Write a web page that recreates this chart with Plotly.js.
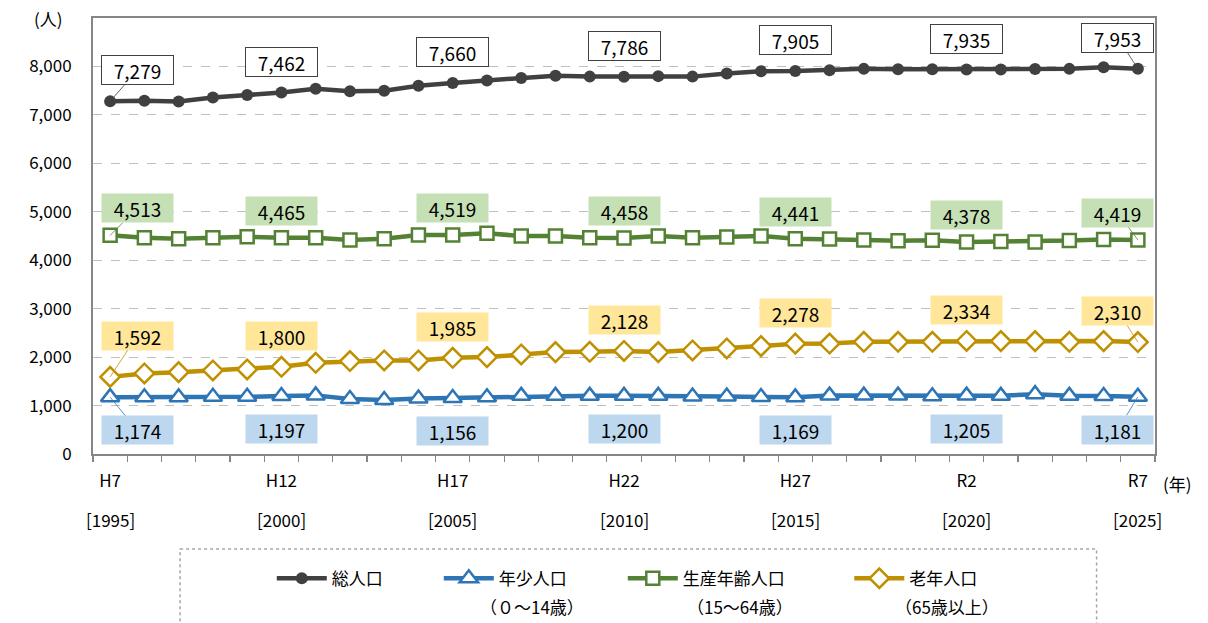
<!DOCTYPE html>
<html><head><meta charset="utf-8">
<script src="https://cdn.plot.ly/plotly-3.0.1.min.js"></script>
<style>body{margin:0;background:#fff}#chart{width:1208px;height:623px}</style>
</head><body><div id="chart"></div>
<script>
const years = [1995,1996,1997,1998,1999,2000,2001,2002,2003,2004,2005,2006,2007,2008,2009,2010,2011,2012,2013,2014,2015,2016,2017,2018,2019,2020,2021,2022,2023,2024,2025];
const total   = [7279,7290,7275,7360,7410,7462,7540,7490,7500,7600,7660,7710,7760,7810,7790,7786,7800,7790,7855,7900,7905,7920,7950,7940,7940,7935,7935,7945,7950,7985,7953];
const youth   = [1174,1170,1170,1180,1180,1197,1210,1135,1115,1145,1156,1170,1200,1200,1200,1200,1200,1185,1185,1175,1169,1205,1205,1205,1190,1205,1200,1235,1200,1195,1181];
const working = [4513,4466,4445,4466,4486,4465,4466,4418,4445,4520,4519,4555,4500,4500,4466,4458,4500,4466,4480,4500,4441,4440,4420,4400,4410,4378,4385,4375,4405,4430,4419];
const elderly = [1592,1663,1690,1725,1746,1800,1883,1918,1931,1931,1985,2000,2055,2103,2110,2128,2103,2137,2179,2227,2278,2280,2316,2316,2316,2334,2330,2330,2316,2330,2310];
const tickYears = [1995,2000,2005,2010,2015,2020,2025];
const eraLabels = ['H7','H12','H17','H22','H27','R2','R7'];
const yTicks = [0,1000,2000,3000,4000,5000,6000,7000,8000];
const seriesNames = ['総人口','年少人口','生産年齢人口','老年人口'];
const seriesSub = ['','（０～14歳）','（15～64歳）','（65歳以上）'];

const FONT = '"Noto Sans CJK JP", "Noto Sans", sans-serif';
const C_TOTAL = '#404040', C_YOUTH = '#2e75b6', C_WORK = '#548235', C_OLD = '#bf9000';
// legend padding so the entries sit apart like the reference
const legendPad = ['　　　', '　　　', '　　　\u2002', ''];
const subX = [0, 0.3625, 0.5574, 0.7532];   // left edge of the age-range line under each legend entry (paper)

const traces = [
  {x: years, y: total, name: seriesNames[0] + legendPad[0], mode: 'lines+markers',
   line: {color: C_TOTAL, width: 4.5}, marker: {symbol: 'circle', size: 12, color: C_TOTAL}},
  {x: years, y: youth, name: seriesNames[1] + legendPad[1], mode: 'lines+markers',
   line: {color: C_YOUTH, width: 4.5}, marker: {symbol: 'triangle-up', size: 16, color: '#fff', line: {color: C_YOUTH, width: 2.5}}},
  {x: years, y: working, name: seriesNames[2] + legendPad[2], mode: 'lines+markers',
   line: {color: C_WORK, width: 4.5}, marker: {symbol: 'square', size: 13, color: '#fff', line: {color: C_WORK, width: 2.5}}},
  {x: years, y: elderly, name: seriesNames[3] + legendPad[3], mode: 'lines+markers',
   line: {color: C_OLD, width: 4.5}, marker: {symbol: 'diamond', size: 15, color: '#fff', line: {color: C_OLD, width: 2.5}}}
];

const fmt = v => v.toLocaleString('en-US');
const annotations = [];
const labelStyles = [
  {data: total, dy: -31, bg: '#ffffff', border: '#404040', lead: C_TOTAL},
  {data: youth, dy: 33, bg: '#bdd7ee', border: 'rgba(0,0,0,0)', lead: C_YOUTH},
  {data: working, dy: -27, bg: '#c5e0b4', border: 'rgba(0,0,0,0)', lead: C_WORK},
  {data: elderly, dy: -31, bg: '#ffe699', border: 'rgba(0,0,0,0)', lead: C_OLD}
];
labelStyles.forEach((s, si) => {
  tickYears.forEach((yr, k) => {
    const i = years.indexOf(yr);
    const first = k === 0, last = k === tickYears.length - 1;
    let dy = s.dy;
    if (si === 3 && first) dy = -41;
    const a = {
      x: yr, y: s.data[i], xref: 'x', yref: 'y',
      text: fmt(s.data[i]),
      font: {family: FONT, size: 19, color: '#000'},
      bgcolor: s.bg, bordercolor: s.border, borderwidth: 1,
      width: 71, height: 28, borderpad: 0
    };
    if (first || last) {
      a.showarrow = true; a.arrowhead = 0; a.arrowwidth = 0.8; a.arrowcolor = s.lead;
      a.ax = first ? 27 : -20; a.ay = dy; a.standoff = 0;
    } else {
      a.showarrow = false; a.yshift = -dy;
    }
    annotations.push(a);
  });
});
// second row of x labels (western years)
tickYears.forEach(yr => {
  annotations.push({x: yr, xref: 'x', y: 0, yref: 'paper', yanchor: 'middle', yshift: -65,
    text: '[' + yr + ']', showarrow: false, font: {family: FONT, size: 17, color: '#000'}});
});
// age-range line of the legend entries
seriesSub.forEach((t, i) => {
  if (!t) return;
  annotations.push({x: subX[i], xref: 'paper', xanchor: 'left', y: -0.3509, yref: 'paper', yanchor: 'middle',
    text: t, showarrow: false, font: {family: FONT, size: 17, color: '#000'}});
});
annotations.push({x: 1, xref: 'paper', xanchor: 'left', xshift: 6, y: 0, yref: 'paper', yanchor: 'middle', yshift: -29,
  text: '(年)', showarrow: false, font: {family: FONT, size: 17, color: '#000'}});
annotations.push({x: 0, xref: 'paper', xanchor: 'right', xshift: -28, y: 1, yref: 'paper', yanchor: 'middle', yshift: 0,
  text: '(人)', showarrow: false, font: {family: FONT, size: 17, color: '#000'}});

const layout = {
  width: 1208, height: 623,
  margin: {l: 93, r: 53, t: 18, b: 169},
  paper_bgcolor: '#fff', plot_bgcolor: '#fff',
  font: {family: FONT, size: 17, color: '#000'},
  showlegend: true,
  legend: {orientation: 'h', xref: 'container', yref: 'container', x: 0.225, y: 0.1, xanchor: 'left', yanchor: 'top',
    font: {family: FONT, size: 17, color: '#000'}, itemwidth: 50, valign: 'top', traceorder: 'normal'},
  xaxis: {
    range: [1994.5, 2025.5], tickvals: tickYears, ticktext: eraLabels, ticks: '',
    showgrid: false, zeroline: false, showline: true, linecolor: '#868686', linewidth: 2, mirror: true,
    tickfont: {family: FONT, size: 17, color: '#000'}, ticklabelstandoff: 11,
    minor: {ticks: 'outside', tick0: 1994.5, dtick: 1, ticklen: 6, tickcolor: '#868686', tickwidth: 1.2, showgrid: false}
  },
  yaxis: {
    range: [0, 9000], tickvals: yTicks, tickformat: ',', ticks: '',
    showgrid: true, gridcolor: '#bfbfbf', griddash: 'dash', gridwidth: 1,
    zeroline: false, showline: true, linecolor: '#868686', linewidth: 2, mirror: true,
    tickfont: {family: FONT, size: 17, color: '#000'}, ticklabelstandoff: 16
  },
  shapes: [{type: 'rect', xref: 'paper', yref: 'paper', x0: 0.082, x1: 0.945, y0: -0.218, y1: -0.6,
    line: {color: '#a6a6a6', width: 1.5, dash: 'dot'}, fillcolor: 'rgba(0,0,0,0)', layer: 'below'}],
  annotations: annotations
};
Plotly.newPlot('chart', traces, layout, {displayModeBar: false, staticPlot: true});
</script></body></html>
